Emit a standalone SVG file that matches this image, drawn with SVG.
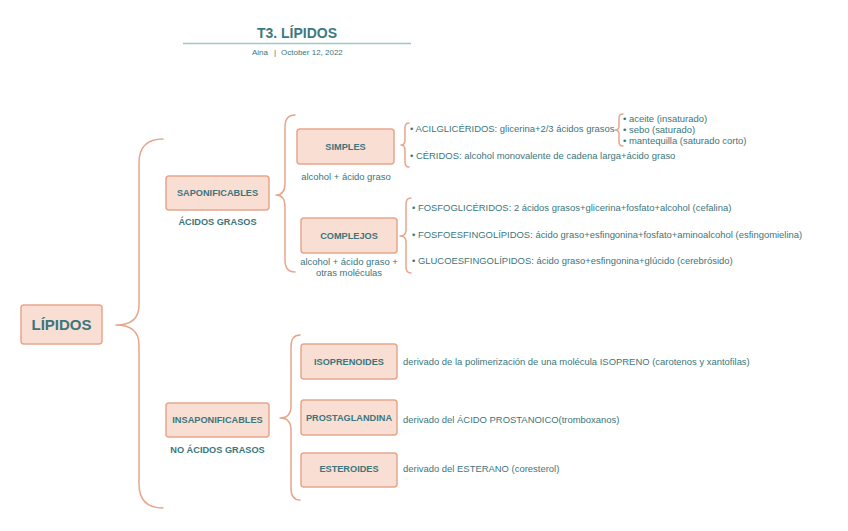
<svg xmlns="http://www.w3.org/2000/svg" width="848" height="531" viewBox="0 0 848 531">
<style>
  text { font-family: "Liberation Sans", Arial, sans-serif; fill: #3b767c; }
  .box { fill: #f9ded4; stroke: #e6a68c; stroke-width: 1.5; }
  .lbl { font-size: 9.2px; font-weight: bold; text-anchor: middle; }
  .sub { font-size: 9.2px; font-weight: bold; text-anchor: middle; }
  .note { font-size: 9.45px; }
  .notec { font-size: 9.45px; text-anchor: middle; }
  .hdr { font-size: 8px; }
  .brace { fill: none; stroke: #e6a68c; stroke-width: 1.5; stroke-linecap: round; stroke-linejoin: round; }
</style>
<rect width="848" height="531" fill="#ffffff"/>

<g id="header">
  <text x="297" y="38" text-anchor="middle" style="font-size:14px;font-weight:bold;fill:#3d7a80">T3. LÍPIDOS</text>
  <line x1="183" y1="43.5" x2="411" y2="43.5" stroke="#9cc6c7" stroke-width="1.5"/>
  <text class="hdr" x="252" y="55">Aina</text>
  <text class="hdr" x="274" y="55">|</text>
  <text class="hdr" x="281" y="55">October 12, 2022</text>
</g>

<g id="connectors">
  <path class="brace" d="M163,139 Q139,139 139,163 L139,305 Q139,325 116,325 Q139,325 139,345 L139,484 Q139,508 163,508"/>
  <path class="brace" d="M295,115 Q285,115 285,127 L285,183 Q285,195 276,195 Q285,195 285,207 L285,260 Q285,272 295,272"/>
  <path class="brace" d="M300,335 Q291,335 291,347 L291,406 Q291,418 280,418 Q291,418 291,430 L291,488 Q291,500 300,500"/>
  <path class="brace" d="M409,123 Q405,123 405,128 L405,140 Q405,145 401,145 Q405,145 405,150 L405,162 Q405,167 409,167"/>
  <path class="brace" d="M411,198 Q406,198 406,204 L406,230 Q406,236 400,236 Q406,236 406,242 L406,267 Q406,273 411,273"/>
  <path class="brace" d="M623,114 Q619,114 619,118 L619,126 Q619,130 615,130 Q619,130 619,134 L619,142 Q619,146 623,146"/>
</g>

<g id="lipidos">
  <rect class="box" x="21" y="305" width="81" height="39" rx="3"/>
  <text x="61.5" y="330" text-anchor="middle" style="font-size:15px;font-weight:bold">LÍPIDOS</text>
</g>

<g id="saponificables">
  <rect class="box" x="166" y="176" width="103" height="34" rx="3"/>
  <text class="lbl" x="217.5" y="196">SAPONIFICABLES</text>
  <text class="sub" x="217.5" y="225">ÁCIDOS GRASOS</text>
</g>

<g id="insaponificables">
  <rect class="box" x="166" y="403" width="103" height="34" rx="3"/>
  <text class="lbl" x="217.5" y="423">INSAPONIFICABLES</text>
  <text class="sub" x="217.5" y="453">NO ÁCIDOS GRASOS</text>
</g>

<g id="simples">
  <rect class="box" x="297" y="129" width="97" height="35" rx="3"/>
  <text class="lbl" x="345.5" y="149.5">SIMPLES</text>
  <text class="notec" x="346" y="180">alcohol + ácido graso</text>
</g>

<g id="complejos">
  <rect class="box" x="301" y="218" width="96" height="35" rx="3"/>
  <text class="lbl" x="349" y="238.5">COMPLEJOS</text>
  <text class="notec" x="349" y="265">alcohol + ácido graso +</text>
  <text class="notec" x="349" y="276">otras moléculas</text>
</g>

<g id="simples-items">
  <text class="note" x="410" y="132">• ACILGLICÉRIDOS: glicerina+2/3 ácidos grasos</text>
  <text class="note" x="410" y="159">• CÉRIDOS: alcohol monovalente de cadena larga+ácido graso</text>
</g>

<g id="acilgliceridos-items">
  <text class="note" x="623" y="122">• aceite (insaturado)</text>
  <text class="note" x="623" y="133">• sebo (saturado)</text>
  <text class="note" x="623" y="144">• mantequilla (saturado corto)</text>
</g>

<g id="complejos-items">
  <text class="note" x="412" y="211">• FOSFOGLICÉRIDOS: 2 ácidos grasos+glicerina+fosfato+alcohol (cefalina)</text>
  <text class="note" x="412" y="238">• FOSFOESFINGOLÍPIDOS: ácido graso+esfingonina+fosfato+aminoalcohol (esfingomielina)</text>
  <text class="note" x="412" y="264">• GLUCOESFINGOLÍPIDOS: ácido graso+esfingonina+glúcido (cerebrósido)</text>
</g>

<g id="isoprenoides">
  <rect class="box" x="301" y="344" width="96" height="35" rx="3"/>
  <text class="lbl" x="349" y="364.5">ISOPRENOIDES</text>
  <text class="note" x="403" y="364.5">derivado de la polimerización de una molécula ISOPRENO (carotenos y xantofilas)</text>
</g>

<g id="prostaglandina">
  <rect class="box" x="301" y="400" width="96" height="35" rx="3"/>
  <text class="lbl" x="349" y="421">PROSTAGLANDINA</text>
  <text class="note" x="403" y="423">derivado del ÁCIDO PROSTANOICO(tromboxanos)</text>
</g>

<g id="esteroides">
  <rect class="box" x="301" y="453" width="96" height="34" rx="3"/>
  <text class="lbl" x="349" y="471.5">ESTEROIDES</text>
  <text class="note" x="403" y="471.5">derivado del ESTERANO (coresterol)</text>
</g>
</svg>
